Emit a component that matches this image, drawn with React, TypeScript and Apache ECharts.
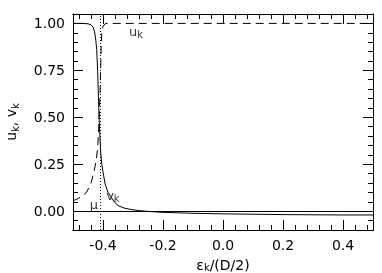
import React, { useEffect, useRef } from 'react';
import * as echarts from 'echarts';

// x-axis (epsilon_k / (D/2)) ticks
const xMajor = [-0.4, -0.2, 0.0, 0.2, 0.4];
const xMinor = [-0.48, -0.44, -0.36, -0.32, -0.28, -0.24, -0.16, -0.12, -0.08, -0.04,
  0.04, 0.08, 0.12, 0.16, 0.24, 0.28, 0.32, 0.36, 0.44, 0.48];
// y-axis ticks
const yMajor = [0.0, 0.25, 0.5, 0.75, 1.0];
const yMinor = [-0.05, 0.05, 0.1, 0.15, 0.2, 0.3, 0.35, 0.4, 0.45, 0.55, 0.6, 0.65, 0.7, 0.8, 0.85, 0.9, 0.95];

// chemical potential
const mu = -0.413;

// v_k (solid)
const vkX = [-0.5, -0.47, -0.45, -0.44, -0.433, -0.428, -0.424, -0.421, -0.418, -0.416, -0.413, -0.41, -0.407, -0.404,
  -0.4, -0.393, -0.383, -0.375, -0.36, -0.35, -0.33, -0.31, -0.28, -0.25, -0.2, -0.1, 0.0, 0.1, 0.2, 0.3, 0.4, 0.5];
const vkY = [1.0, 1.0, 0.998, 0.992, 0.98, 0.955, 0.91, 0.86, 0.75, 0.65, 0.5, 0.38, 0.3, 0.25,
  0.21, 0.145, 0.1, 0.08, 0.045, 0.03, 0.017, 0.01, 0.003, -0.001, -0.006, -0.011, -0.014, -0.016, -0.018, -0.019, -0.02, -0.02];

// u_k (dashed)
const ukX = [-0.5, -0.48, -0.455, -0.44, -0.43, -0.424, -0.418, -0.415, -0.413, -0.41, -0.408, -0.406, -0.404, -0.4,
  -0.393, -0.385, -0.3, 0.0, 0.5];
const ukY = [0.055, 0.07, 0.1, 0.15, 0.21, 0.26, 0.33, 0.42, 0.5, 0.62, 0.75, 0.88, 0.95, 0.985,
  0.998, 1.0, 1.0, 1.0, 1.0];

// annotation labels: [x, y, text]
const annotations: [number, number, string][] = [
  [-0.29, 0.955, '{m|u}{s|k}'],
  [-0.367, 0.085, '{m|v}{s|k}'],
  [-0.43, 0.035, '{m|μ}'],
];

const FONT = 'DejaVu Sans';
const rich = {
  m: { fontSize: 13, fontFamily: FONT, color: '#000', lineHeight: 16 },
  s: { fontSize: 10, fontFamily: FONT, color: '#000', lineHeight: 10, verticalAlign: 'bottom' },
};
const richName = {
  m: { fontSize: 14, fontFamily: FONT, color: '#000', lineHeight: 18 },
  s: { fontSize: 10, fontFamily: FONT, color: '#000', lineHeight: 11, verticalAlign: 'bottom' },
};
const richNameX = {
  m: { fontSize: 14, fontFamily: FONT, color: '#000', lineHeight: 14 },
  s: { fontSize: 10, fontFamily: FONT, color: '#000', lineHeight: 9, verticalAlign: 'bottom' },
};

const line = { show: true, onZero: false, lineStyle: { color: '#000', width: 1 } };

function mkX(position: string, values: number[], len: number, withLabels: boolean, extra: any = {}) {
  return {
    type: 'value', gridIndex: 0, position, min: -0.5, max: 0.5,
    axisLine: line,
    axisTick: { show: true, inside: true, length: len, customValues: values, lineStyle: { color: '#000', width: 1 } },
    axisLabel: withLabels
      ? { show: true, customValues: values, margin: 8, fontSize: 14, fontFamily: FONT, color: '#000',
          formatter: (v: number) => v.toFixed(1) }
      : { show: false },
    splitLine: { show: false },
    ...extra,
  };
}
function mkY(position: string, values: number[], len: number, withLabels: boolean, extra: any = {}) {
  return {
    type: 'value', gridIndex: 0, position, min: -0.1, max: 1.05,
    axisLine: line,
    axisTick: { show: true, inside: true, length: len, customValues: values, lineStyle: { color: '#000', width: 1 } },
    axisLabel: withLabels
      ? { show: true, customValues: values, margin: 8, fontSize: 14, fontFamily: FONT, color: '#000',
          formatter: (v: number) => v.toFixed(2) }
      : { show: false },
    splitLine: { show: false },
    ...extra,
  };
}

export default function App() {
  const ref = useRef<HTMLDivElement>(null);
  useEffect(() => {
    if (!ref.current) return;
    const chart = echarts.init(ref.current, undefined, { renderer: 'svg' });
    const vk = vkX.map((x, i) => [x, vkY[i]]);
    const uk = ukX.map((x, i) => [x, ukY[i]]);
    chart.setOption({
      animation: false,
      textStyle: { fontFamily: FONT },
      grid: { left: 73, top: 14, width: 300, height: 216, containLabel: false, outerBoundsMode: 'none' },
      xAxis: [
        mkX('bottom', xMajor, 10, true, {
          name: '{m|ε}{s|k}{m|/(D/2)}', nameLocation: 'middle', nameGap: 28,
          nameTextStyle: { rich: richNameX },
        }),
        mkX('bottom', xMinor, 5, false),
        mkX('top', xMajor, 10, false),
        mkX('top', xMinor, 5, false),
      ],
      yAxis: [
        mkY('left', yMajor, 10, true, {
          name: '{m|u}{s|k}{m|, v}{s|k}', nameLocation: 'middle', nameGap: 53, nameRotate: 90,
          nameTextStyle: { rich: richName },
        }),
        mkY('left', yMinor, 5, false),
        mkY('right', yMajor, 10, false),
        mkY('right', yMinor, 5, false),
      ],
      series: [
        {
          name: 'v_k', type: 'line', data: vk, showSymbol: false, symbol: 'none',
          lineStyle: { color: '#000', width: 1, type: 'solid' },
          markLine: {
            silent: true, symbol: ['none', 'none'], label: { show: false },
            data: [
              { yAxis: 0, lineStyle: { color: '#000', width: 1, type: 'solid' } },
              { xAxis: mu, lineStyle: { color: '#000', width: 1, type: [1, 2] } },
            ],
          },
        },
        {
          name: 'u_k', type: 'line', data: uk, showSymbol: false, symbol: 'none',
          lineStyle: { color: '#000', width: 1, type: [8, 5] },
        },
        {
          name: 'labels', type: 'scatter', symbolSize: 1, silent: true,
          itemStyle: { color: 'rgba(0,0,0,0)' },
          data: annotations.map(([x, y, t]) => ({ value: [x, y], label: { formatter: t } })),
          label: {
            show: true, position: 'inside', align: 'center', verticalAlign: 'middle',
            color: '#000', textBorderWidth: 0, rich,
          },
        },
      ],
    });
    return () => chart.dispose();
  }, []);
  return <div ref={ref} style={{ position: 'fixed', left: 0, top: 0, width: 382, height: 273 }} />;
}
